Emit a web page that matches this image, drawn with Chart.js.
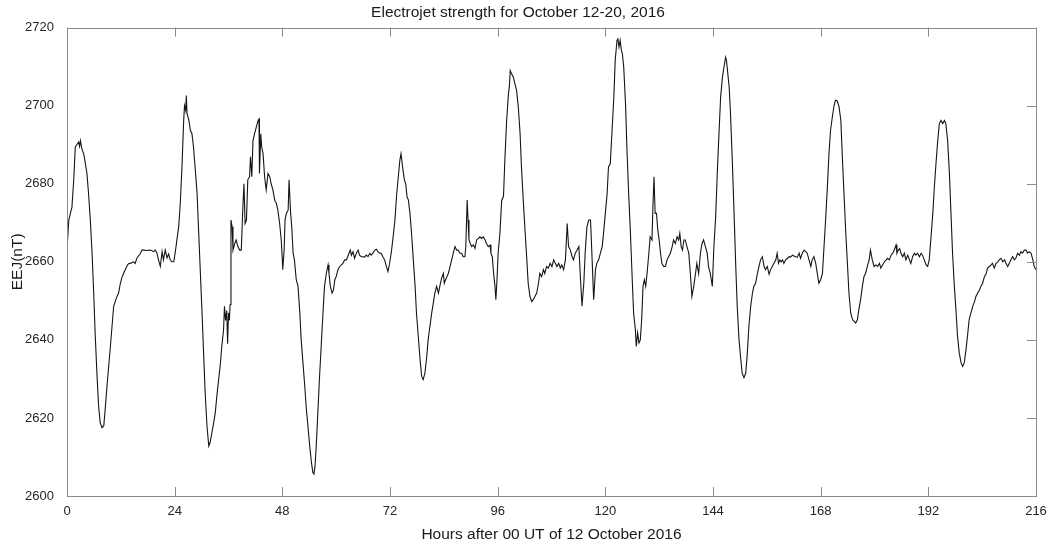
<!DOCTYPE html>
<html>
<head>
<meta charset="utf-8">
<title>EEJ October 12-20, 2016</title>
<script src="https://cdn.jsdelivr.net/npm/chart.js@4.4.1/dist/chart.umd.min.js"></script>
<style>
  html, body { margin: 0; padding: 0; background: #fff; }
  #wrap { width: 1050px; height: 546px; }
</style>
</head>
<body>
<div id="wrap"><canvas id="eejChart"></canvas></div>
<script>
"use strict";

const TITLE = "Electrojet strength for October 12-20, 2016";
const X_LABEL = "Hours after 00 UT of 12 October 2016";
const Y_LABEL = "EEJ(nT)";

const X_TICKS = [0, 24, 48, 72, 96, 120, 144, 168, 192, 216];
const Y_TICKS = [2600, 2620, 2640, 2660, 2680, 2700, 2720];

// hours after 00 UT, 12 Oct 2016
const hours = [
  0, 0.4, 1.1, 1.5, 1.85, 2.2, 2.6, 2.8, 3.0, 3.3,
  3.7, 3.85, 4.45, 4.8, 5.2, 5.6, 5.95, 6.3, 6.7, 7.05,
  7.4, 7.8, 8.2, 8.5, 8.9, 9.65, 10.4, 10.8, 11.1, 11.5,
  11.9, 12.25, 12.6, 13.4, 13.7, 14.1, 14.85, 15.2, 15.6, 16.3,
  16.7, 17.1, 17.8, 18.6, 19.3, 19.7, 20.05, 20.4, 20.8, 21.2,
  21.5, 21.9, 22.3, 22.65, 23.0, 23.4, 23.8, 24.1, 24.5, 24.9,
  25.25, 25.6, 26.0, 26.2, 26.45, 26.6, 26.75, 27.0, 27.2, 27.5,
  27.85, 28.2, 28.6, 29.0, 29.3, 29.7, 30.1, 30.45, 30.8, 31.2,
  31.6, 31.9, 32.3, 32.7, 33.05, 33.4, 33.8, 34.2, 34.5, 34.9,
  35.1, 35.35, 35.6, 35.8, 36.0, 36.2, 36.35, 36.55, 36.8, 37.0,
  37.4, 37.7, 38.1, 38.5, 38.85, 39.2, 39.45, 39.7, 40.0, 40.3,
  40.7, 40.9, 41.2, 41.45, 41.8, 42.2, 42.6, 42.8, 42.9, 43.2,
  43.4, 43.7, 44.05, 44.4, 44.8, 45.2, 45.5, 45.9, 46.3, 46.65,
  47.0, 47.4, 47.75, 48.0, 48.1, 48.4, 48.6, 48.9, 49.3, 49.5,
  49.6, 49.85, 50.1, 50.4, 50.7, 51.1, 51.5, 51.9, 52.2, 52.6,
  53.0, 53.3, 53.7, 54.1, 54.5, 54.8, 55.05, 55.3, 55.6, 55.95,
  56.3, 56.7, 57.1, 57.4, 57.8, 58.2, 58.4, 58.7, 59.1, 59.4,
  59.7, 60.0, 60.4, 60.8, 61.15, 61.5, 61.9, 62.3, 62.85, 63.15,
  63.4, 63.75, 64.1, 64.5, 64.9, 65.2, 65.6, 66.0, 66.35, 66.7,
  67.1, 67.5, 67.8, 68.2, 68.6, 68.95, 69.3, 69.7, 70.05, 70.4,
  70.8, 71.2, 71.55, 71.9, 72.3, 72.7, 73.1, 73.5, 73.85, 74.2,
  74.45, 74.6, 74.8, 75.2, 75.5, 75.8, 76.1, 76.45, 76.8, 77.2,
  77.6, 77.9, 78.3, 78.7, 79.05, 79.4, 79.8, 80.2, 80.5, 80.9,
  81.3, 81.65, 82.0, 82.4, 82.8, 83.1, 83.5, 83.9, 84.1, 84.4,
  84.7, 85.0, 85.4, 85.75, 86.1, 86.5, 86.85, 87.2, 87.6, 87.97,
  88.3, 88.7, 88.9, 89.2, 89.4, 89.6, 89.9, 90.2, 90.6, 90.95,
  91.3, 91.7, 92.05, 92.4, 92.8, 93.2, 93.5, 93.9, 94.3, 94.5,
  94.8, 95.1, 95.4, 95.6, 95.85, 96.1, 96.5, 96.9, 97.3, 97.6,
  98.0, 98.4, 98.6, 98.8, 99.1, 99.5, 99.85, 100.2, 100.6, 101.0,
  101.3, 101.7, 102.1, 102.5, 102.8, 103.2, 103.6, 103.95, 104.3, 104.7,
  105.1, 105.4, 105.8, 106.2, 106.5, 106.9, 107.3, 107.7, 108.1, 108.5,
  108.85, 109.2, 109.6, 109.97, 110.3, 110.7, 111.1, 111.5, 111.8, 112.2,
  112.6, 112.9, 113.3, 113.7, 114.1, 114.4, 114.8, 115.2, 115.5, 115.9,
  116.3, 116.7, 117.0, 117.4, 117.8, 118.1, 118.5, 118.9, 119.3, 119.6,
  120.0, 120.4, 120.7, 121.1, 121.5, 121.9, 122.2, 122.6, 122.8, 123.05,
  123.3, 123.6, 123.8, 124.1, 124.5, 124.8, 125.2, 125.6, 126.0, 126.3,
  126.7, 126.9, 127.2, 127.5, 127.8, 128.1, 128.4, 128.7, 129.0, 129.3,
  129.7, 130.0, 130.4, 130.6, 130.85, 131.1, 131.4, 131.7, 132.0, 132.3,
  132.6, 133.0, 133.4, 133.75, 134.1, 134.5, 134.9, 135.2, 135.6, 136.0,
  136.35, 136.6, 136.9, 137.2, 137.5, 137.8, 138.2, 138.6, 138.95, 139.3,
  139.7, 140.1, 140.4, 140.8, 141.2, 141.55, 141.9, 142.3, 142.7, 143.0,
  143.4, 143.85, 144.2, 144.6, 144.95, 145.3, 145.7, 146.1, 146.45, 146.8,
  147.0, 147.3, 147.6, 147.9, 148.3, 148.7, 149.05, 149.4, 149.8, 150.2,
  150.5, 150.9, 151.3, 151.65, 152.0, 152.4, 152.8, 153.1, 153.5, 153.9,
  154.25, 154.6, 155.0, 155.4, 155.7, 156.1, 156.5, 156.85, 157.2, 157.6,
  158.0, 158.3, 158.6, 158.9, 159.2, 159.5, 159.8, 160.2, 160.6, 161.0,
  161.3, 161.7, 162.05, 162.4, 162.8, 163.2, 163.5, 163.9, 164.3, 164.65,
  165.0, 165.4, 165.8, 166.1, 166.5, 166.9, 167.25, 167.6, 168.0, 168.4,
  168.75, 169.1, 169.5, 169.85, 170.2, 170.6, 171.0, 171.3, 171.7, 172.1,
  172.5, 172.8, 173.2, 173.6, 174.0, 174.3, 174.7, 175.1, 175.4, 175.8,
  176.2, 176.5, 176.9, 177.3, 177.65, 178.0, 178.4, 178.8, 179.1, 179.5,
  179.9, 180.3, 180.7, 181.1, 181.4, 181.8, 182.2, 182.6, 182.9, 183.3,
  183.7, 184.05, 184.4, 184.8, 185.0, 185.3, 185.6, 185.9, 186.3, 186.65,
  187.0, 187.4, 187.8, 188.1, 188.5, 188.9, 189.2, 189.6, 190.0, 190.4,
  190.7, 191.1, 191.5, 191.85, 192.2, 192.6, 193.0, 193.3, 193.7, 194.1,
  194.45, 194.8, 195.2, 195.6, 195.9, 196.3, 196.7, 197.05, 197.4, 197.8,
  198.2, 198.5, 198.9, 199.3, 199.65, 200.0, 200.4, 200.8, 201.1, 201.5,
  201.9, 202.3, 202.6, 203.0, 203.4, 203.7, 204.1, 204.5, 204.9, 205.2,
  205.6, 206.0, 206.3, 206.7, 207.1, 207.5, 207.8, 208.2, 208.6, 209.0,
  209.3, 209.7, 210.05, 210.4, 210.8, 211.2, 211.5, 211.9, 212.3, 212.65,
  213.0, 213.4, 213.8, 214.1, 214.5, 214.9, 215.3, 215.6, 216.0,
];

// electrojet strength, nT (same order as hours)
const eej = [
  2663, 2670.7, 2674, 2681, 2689.4, 2690, 2690.7, 2689.6, 2691, 2689,
  2687.7, 2686.9, 2682.6, 2677.5, 2670.7, 2662, 2652, 2641, 2630.7, 2623,
  2618.8, 2617.5, 2618, 2622, 2628, 2638, 2648.6, 2650, 2651, 2652,
  2654.5, 2656, 2657, 2659, 2659.5, 2659.6, 2660, 2659.6, 2661, 2662,
  2663, 2663, 2662.9, 2663, 2662.6, 2663, 2662.2, 2660.5, 2658.8, 2662.6,
  2660.5, 2663, 2661, 2662, 2660.5, 2660, 2660, 2662.2, 2665.6, 2669,
  2675, 2683.5, 2696, 2700, 2698.8, 2702.6, 2698, 2697, 2696, 2693.7,
  2692.8, 2689.4, 2683.5, 2677.5, 2669, 2658, 2647, 2636.6, 2626.4, 2618,
  2612.8, 2613.7, 2616.2, 2618.8, 2621.3, 2625.6, 2629.8, 2634, 2638.3, 2642.6,
  2648.6, 2645, 2647.5, 2639, 2646.9, 2645, 2649, 2670.7, 2669, 2663,
  2664.7, 2665.6, 2663.9, 2663, 2663, 2674, 2680, 2669.8, 2670.7, 2681,
  2681.8, 2686.9, 2681.8, 2691, 2692.8, 2694.5, 2696.2, 2696.6, 2682.6, 2692.8,
  2689.4, 2687.7, 2681.8, 2678.4, 2682.6, 2681.8, 2680, 2678.4, 2675.8, 2675,
  2673.3, 2669.8, 2665.6, 2660.5, 2658, 2663, 2670.7, 2672.4, 2673.3, 2681,
  2681, 2672.4, 2669, 2662.2, 2660.5, 2655.4, 2653.7, 2646.9, 2640, 2634.1,
  2628.1, 2623, 2618, 2612.8, 2608.5, 2606, 2605.6, 2607.7, 2613.7, 2622.2,
  2630.7, 2639.2, 2647.7, 2653.7, 2657, 2659.2, 2657, 2653.7, 2652, 2652.8,
  2655.4, 2656.2, 2658, 2658.8, 2659.2, 2659.6, 2660.5, 2660.5, 2662.2, 2663,
  2661.7, 2662.6, 2660.9, 2662.2, 2663, 2661.7, 2661.3, 2661.3, 2661.2, 2661.7,
  2661.3, 2662.2, 2661.7, 2662.2, 2663, 2663.2, 2662.6, 2662.2, 2662.2, 2661.3,
  2660.5, 2658.8, 2657.5, 2659.5, 2662.5, 2666.4, 2670.7, 2677.5, 2681.8, 2686,
  2687.7, 2686.4, 2684.3, 2681, 2680, 2676.7, 2675.8, 2672.4, 2667.3, 2660.5,
  2653.7, 2646.9, 2641, 2635, 2630.7, 2629.8, 2631.6, 2635.8, 2640, 2643.5,
  2646.9, 2649.4, 2652, 2653.7, 2652, 2653.7, 2655.8, 2657, 2654.5, 2655.4,
  2656.2, 2657, 2658.8, 2660.5, 2662.2, 2663.9, 2663, 2663, 2662.2, 2662.2,
  2661.3, 2661.3, 2663.9, 2675.8, 2670.7, 2665.6, 2664.7, 2663.9, 2664.3, 2663.4,
  2665.6, 2666, 2666.4, 2666, 2666.4, 2665.6, 2664.7, 2663.9, 2664.3, 2662.2,
  2661.3, 2657, 2653.7, 2650.3, 2655.4, 2662.2, 2667.3, 2675.8, 2676.7, 2686,
  2696.2, 2703, 2704.8, 2709, 2708.2, 2707.3, 2705.6, 2704, 2699.7, 2692.8,
  2684.3, 2675.8, 2668.1, 2660.5, 2654.5, 2651.1, 2649.8, 2650.3, 2651.1, 2652,
  2654.5, 2657, 2656.2, 2658, 2657, 2658.8, 2658.4, 2659.6, 2658.8, 2660.5,
  2659.6, 2658.8, 2659.6, 2658.4, 2659.2, 2658, 2660.5, 2669.8, 2663.9, 2663,
  2661.3, 2660.5, 2662.2, 2663, 2663.9, 2657, 2648.6, 2654.5, 2662.2, 2669,
  2670.7, 2670.7, 2662.2, 2650.3, 2658, 2659.6, 2660.5, 2662.2, 2663.9, 2667.3,
  2672.4, 2677.5, 2684.3, 2685.1, 2693.7, 2702.2, 2711.6, 2716.7, 2717.1, 2715,
  2716.7, 2714.1, 2713.3, 2709.9, 2700.5, 2689.4, 2677.5, 2667.3, 2655.4, 2646.9,
  2642.6, 2638.3, 2641.8, 2639.2, 2640, 2645.2, 2653.7, 2655.4, 2653.7, 2657,
  2662.2, 2666.4, 2665.6, 2674, 2681.8, 2672.4, 2672.4, 2668.1, 2665.6, 2662.2,
  2659.6, 2658.8, 2658.8, 2660.5, 2661.3, 2662.2, 2663.9, 2665.6, 2664.7, 2666.4,
  2665.6, 2667.3, 2663.9, 2663, 2665.6, 2665.6, 2663.9, 2662.2, 2657, 2651.1,
  2653.7, 2657, 2659.6, 2657, 2662.2, 2664.7, 2665.6, 2663.9, 2662.2, 2658.8,
  2657, 2653.7, 2663.9, 2671.6, 2682.6, 2692, 2702.2, 2707.3, 2709.9, 2712.4,
  2711.6, 2708.2, 2704.8, 2698, 2686, 2672.4, 2659.6, 2648.6, 2640, 2634.9,
  2631.5, 2630.3, 2631.5, 2636.6, 2643.5, 2648.6, 2652, 2653.7, 2654.5, 2657,
  2658.8, 2660.5, 2661.3, 2658.8, 2658, 2658.8, 2656.8, 2658, 2658.8, 2659.6,
  2660.5, 2662.2, 2659.6, 2660.5, 2660, 2660.5, 2659.6, 2660.5, 2660.9, 2661.3,
  2661.2, 2661.7, 2661.5, 2661.3, 2661.2, 2662.2, 2660.9, 2662.2, 2663, 2662.6,
  2662.2, 2660.5, 2658.8, 2660.5, 2661.3, 2659.6, 2657, 2654.5, 2655.4, 2657,
  2663.9, 2670.7, 2679.2, 2687.7, 2693.7, 2697.1, 2700.1, 2701.4, 2701.2, 2699.7,
  2696.2, 2687.7, 2677.5, 2667.3, 2658.8, 2652, 2646.9, 2645.2, 2644.8, 2644.3,
  2645.2, 2647.7, 2650.3, 2653.7, 2656.2, 2657, 2658.8, 2660.5, 2663, 2660.5,
  2658.8, 2659.2, 2658.8, 2659.6, 2658.4, 2659.2, 2660, 2660.5, 2660.9, 2660.5,
  2661.7, 2662.2, 2663, 2664.3, 2662.2, 2663, 2663.4, 2662.2, 2661.3, 2662.2,
  2660.5, 2661.7, 2660.5, 2659.6, 2661.3, 2662.2, 2661.7, 2662.2, 2661.3, 2662.2,
  2661.7, 2660.5, 2659.2, 2658.8, 2660.5, 2666.4, 2672.4, 2678.4, 2685.1, 2691.1,
  2695.4, 2696.2, 2695.4, 2696.2, 2695.4, 2691.1, 2682.6, 2672.4, 2662.2, 2653.7,
  2646.9, 2641, 2636.6, 2634.1, 2633.2, 2634.1, 2637.5, 2641.8, 2645.2, 2646.9,
  2648.6, 2649.8, 2651.1, 2652, 2652.8, 2653.7, 2654.5, 2656.2, 2657, 2658.4,
  2658.8, 2659.2, 2659.6, 2658.4, 2659.6, 2660, 2660.5, 2660.9, 2660, 2660.5,
  2659.6, 2658.8, 2659.6, 2660.5, 2661.3, 2660.5, 2660.9, 2662.2, 2661.7, 2662.6,
  2662.2, 2663, 2663, 2662.2, 2662.6, 2662.2, 2660.5, 2658.8, 2658,
];

const AXIS_GREY = "#8a8a8a";
const TEXT_COLOR = "#262626";
const TICK_LEN = 9;

Chart.defaults.font.family = "'Liberation Sans', Arial, Helvetica, sans-serif";
Chart.defaults.color = TEXT_COLOR;

// matlab style box around the axes with inward tick marks
const axesBox = {
  id: "axesBox",
  afterDraw(chart) {
    const { ctx, chartArea } = chart;
    const { left, right, top, bottom } = chartArea;
    const x = chart.scales.x;
    const y = chart.scales.y;
    ctx.save();
    ctx.strokeStyle = AXIS_GREY;
    ctx.lineWidth = 1;
    ctx.strokeRect(Math.round(left) + 0.5, Math.round(top) + 0.5,
      Math.round(right - left), Math.round(bottom - top));
    ctx.beginPath();
    X_TICKS.forEach((v) => {
      const px = Math.round(x.getPixelForValue(v)) + 0.5;
      ctx.moveTo(px, bottom);
      ctx.lineTo(px, bottom - TICK_LEN);
      ctx.moveTo(px, top);
      ctx.lineTo(px, top + TICK_LEN);
    });
    Y_TICKS.forEach((v) => {
      const py = Math.round(y.getPixelForValue(v)) + 0.5;
      ctx.moveTo(right, py);
      ctx.lineTo(right - TICK_LEN, py);
    });
    ctx.stroke();
    ctx.restore();
  },
};

function createChart() {
  const points = hours.map((h, i) => ({ x: h, y: eej[i] }));
  const ctx = document.getElementById("eejChart").getContext("2d");
  const myChart = new Chart(ctx, {
    type: "line",
    data: {
      datasets: [
        {
          data: points,
          borderColor: "#151515",
          borderWidth: 1.1,
          pointRadius: 0,
          tension: 0,
          fill: false,
        },
      ],
    },
    options: {
      responsive: true,
      maintainAspectRatio: false,
      animation: false,
      layout: { padding: { left: 0, right: 14, top: 0, bottom: 0 } },
      plugins: {
        legend: { display: false },
        tooltip: { enabled: false },
        title: {
          display: true,
          text: TITLE,
          color: "#1a1a1a",
          font: { size: 15.5, weight: "normal" },
          padding: { top: 3, bottom: 6 },
        },
      },
      scales: {
        x: {
          type: "linear",
          min: 0,
          max: 216,
          afterBuildTicks: (s) => {
            s.ticks = X_TICKS.map((v) => ({ value: v }));
          },
          afterFit: (s) => {
            s.height = 50;
            s.paddingLeft = 0;
            s.paddingRight = 0;
          },
          grid: { display: false },
          border: { display: false },
          ticks: {
            font: { size: 13 },
            padding: 0,
            maxRotation: 0,
            autoSkip: false,
            callback: (v) => String(v),
          },
          title: {
            display: true,
            text: X_LABEL,
            color: "#1a1a1a",
            font: { size: 15.5 },
            padding: { top: 0, bottom: 2 },
          },
        },
        y: {
          min: 2600,
          max: 2720,
          afterBuildTicks: (s) => {
            s.ticks = Y_TICKS.map((v) => ({ value: v }));
          },
          afterFit: (s) => {
            s.width = 67;
            s.paddingTop = 0;
            s.paddingBottom = 0;
          },
          grid: { display: false },
          border: { display: false },
          ticks: { font: { size: 13 }, padding: 5, callback: (v) => String(v) },
          title: {
            display: true,
            text: Y_LABEL,
            color: "#1a1a1a",
            font: { size: 15.5 },
            padding: { top: 8, bottom: 0 },
          },
        },
      },
    },
    plugins: [axesBox],
  });
  return myChart;
}

createChart();
</script>
</body>
</html>
